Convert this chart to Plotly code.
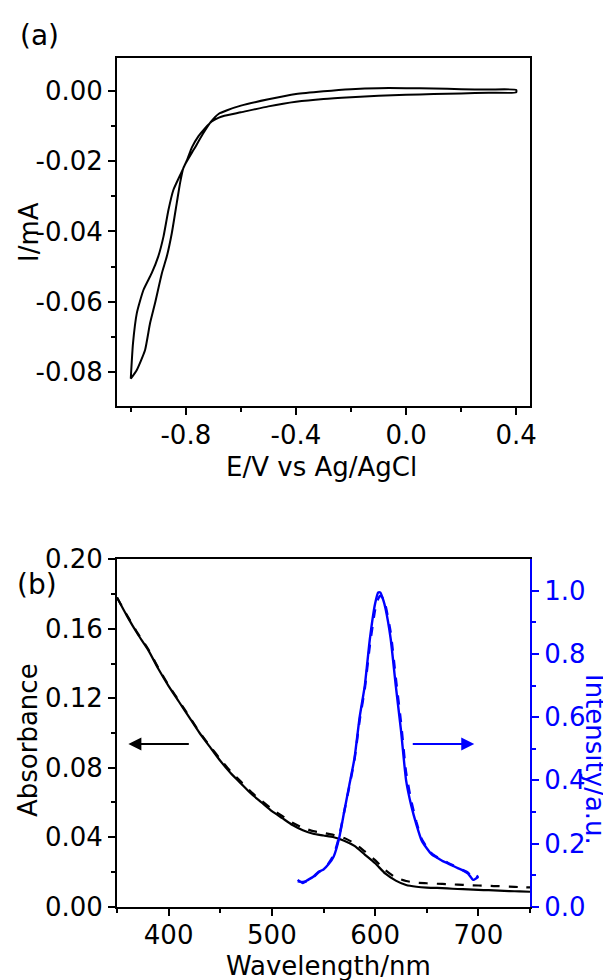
import plotly.graph_objects as go

# ---------------- data: panel (a) cyclic voltammogram ----------------
cv_forward_potential = [0.40, 0.30, 0.20, 0.10, 0.00, -0.10, -0.20, -0.30, -0.40, -0.50,
                        -0.60, -0.65, -0.68, -0.71, -0.74, -0.77, -0.80, -0.82, -0.845,
                        -0.863, -0.881, -0.90, -0.924, -0.954, -0.978, -0.992, -1.00]
cv_forward_current = [0.0004, 0.0005, 0.0006, 0.0008, 0.0009, 0.0009, 0.0006, 0.0000, -0.0008,
                      -0.0023, -0.0041, -0.0054, -0.0064, -0.0088, -0.0124, -0.0165, -0.0205,
                      -0.0238, -0.0281, -0.0338, -0.0414, -0.0471, -0.0519, -0.0567, -0.0633,
                      -0.0720, -0.0820]
cv_reverse_potential = [-1.00, -0.978, -0.948, -0.930, -0.912, -0.887, -0.869, -0.851, -0.833,
                        -0.821, -0.809, -0.795, -0.778, -0.754, -0.730, -0.706, -0.68, -0.66,
                        -0.60, -0.50, -0.40, -0.30, -0.20, -0.10, 0.00, 0.10, 0.20, 0.30, 0.40]
cv_reverse_current = [-0.0820, -0.0795, -0.0738, -0.0662, -0.0605, -0.0519, -0.0471, -0.0405,
                      -0.0319, -0.0262, -0.0219, -0.0195, -0.0160, -0.0128, -0.0105, -0.0086,
                      -0.0075, -0.0070, -0.0060, -0.0043, -0.0030, -0.0022, -0.0017, -0.0013,
                      -0.0010, -0.0008, -0.0006, -0.0004, -0.0003]

# ---------------- data: panel (b) absorbance + PL ----------------
wavelength_abs = [350, 360, 370, 380, 390, 400, 410, 420, 430, 440, 450, 460, 470, 480, 490,
                  500, 510, 520, 530, 540, 550, 560, 570, 580, 590, 600, 610, 620, 630, 640,
                  650, 660, 670, 680, 690, 700, 710, 720, 730, 740, 750]
absorbance_solid = [0.178, 0.167, 0.157, 0.148, 0.137, 0.127, 0.118, 0.109, 0.100, 0.092,
                    0.084, 0.077, 0.071, 0.065, 0.060, 0.055, 0.051, 0.047, 0.044, 0.042,
                    0.041, 0.040, 0.038, 0.035, 0.030, 0.025, 0.019, 0.015, 0.0125, 0.0115,
                    0.011, 0.0108, 0.0105, 0.0102, 0.010, 0.0097, 0.0095, 0.0093, 0.009,
                    0.0088, 0.0086]
absorbance_dashed = [0.178, 0.1675, 0.1575, 0.1485, 0.1375, 0.1275, 0.1185, 0.1095, 0.1005,
                     0.0925, 0.085, 0.078, 0.072, 0.066, 0.061, 0.0562, 0.0522, 0.0483, 0.0455,
                     0.0435, 0.0425, 0.0413, 0.0395, 0.0365, 0.0318, 0.0268, 0.021, 0.0168,
                     0.0148, 0.0138, 0.0135, 0.0132, 0.013, 0.0127, 0.0124, 0.0122, 0.012,
                     0.0118, 0.0116, 0.0113, 0.0111]

wavelength_pl = [525, 530, 535, 540, 545, 550, 555, 560, 565, 570, 575, 580, 585, 590, 595,
                 600, 603, 605, 608, 610, 615, 620, 625, 630, 635, 640, 645, 650, 655, 660,
                 665, 670, 675, 680, 685, 690, 695, 700]
intensity_solid = [0.085, 0.075, 0.085, 0.095, 0.110, 0.118, 0.135, 0.160, 0.215, 0.300,
                   0.385, 0.470, 0.600, 0.700, 0.850, 0.960, 0.995, 0.995, 0.970, 0.945,
                   0.850, 0.700, 0.560, 0.400, 0.320, 0.260, 0.210, 0.185, 0.165, 0.155,
                   0.145, 0.138, 0.130, 0.122, 0.115, 0.105, 0.085, 0.095]
intensity_dashed = [0.080, 0.078, 0.082, 0.093, 0.108, 0.120, 0.138, 0.165, 0.220, 0.300,
                    0.380, 0.465, 0.590, 0.690, 0.830, 0.940, 0.975, 0.985, 0.975, 0.955,
                    0.870, 0.725, 0.585, 0.425, 0.335, 0.268, 0.215, 0.188, 0.168, 0.157,
                    0.147, 0.140, 0.132, 0.124, 0.116, 0.108, 0.090, 0.098]

# ---------------- tick labels ----------------
cv_x_ticks = [-0.8, -0.4, 0.0, 0.4]
cv_x_ticklabels = ["-0.8", "-0.4", "0.0", "0.4"]
cv_x_minor = [-1.0, -0.6, -0.2, 0.2]
cv_y_ticks = [0.0, -0.02, -0.04, -0.06, -0.08]
cv_y_ticklabels = ["0.00", "-0.02", "-0.04", "-0.06", "-0.08"]
cv_y_minor = [-0.01, -0.03, -0.05, -0.07]
wl_ticks = [400, 500, 600, 700]
wl_ticklabels = ["400", "500", "600", "700"]
wl_minor = [350, 450, 550, 650, 750]
abs_ticks = [0.0, 0.04, 0.08, 0.12, 0.16, 0.20]
abs_ticklabels = ["0.00", "0.04", "0.08", "0.12", "0.16", "0.20"]
abs_minor = [0.02, 0.06, 0.10, 0.14, 0.18]
int_ticks = [0.0, 0.2, 0.4, 0.6, 0.8, 1.0]
int_ticklabels = ["0.0", "0.2", "0.4", "0.6", "0.8", "1.0"]
int_minor = [0.1, 0.3, 0.5, 0.7, 0.9]

# the page body adds an 8 px offset; size the figure so it fills the 611x980 window
OFF = 8
W, H = 611 - OFF, 980 - OFF
FONT = "DejaVu Sans"
FS = 26
BLUE = "#0000ff"


def fx(p):
    return (p - OFF) / W


def fy(p):
    return 1 - (p - OFF) / H


fig = go.Figure()

# panel (a): closed CV loop
loop_x = cv_forward_potential + cv_reverse_potential + cv_forward_potential[:1]
loop_y = cv_forward_current + cv_reverse_current + cv_forward_current[:1]
fig.add_trace(go.Scatter(x=loop_x, y=loop_y, mode="lines", xaxis="x", yaxis="y",
                         line=dict(color="black", width=2, shape="spline", smoothing=0.5),
                         showlegend=False, hoverinfo="skip"))

# panel (b)
fig.add_trace(go.Scatter(x=wavelength_abs, y=absorbance_dashed, mode="lines", xaxis="x2", yaxis="y2",
                         line=dict(color="black", width=2.2, dash="dash", shape="spline", smoothing=0.6),
                         showlegend=False))
fig.add_trace(go.Scatter(x=wavelength_abs, y=absorbance_solid, mode="lines", xaxis="x2", yaxis="y2",
                         line=dict(color="black", width=2.2, shape="spline", smoothing=0.6),
                         showlegend=False))
fig.add_trace(go.Scatter(x=wavelength_pl, y=intensity_dashed, mode="lines", xaxis="x2", yaxis="y3",
                         line=dict(color=BLUE, width=2.4, dash="dash", shape="spline", smoothing=0.5),
                         showlegend=False))
fig.add_trace(go.Scatter(x=wavelength_pl, y=intensity_solid, mode="lines", xaxis="x2", yaxis="y3",
                         line=dict(color=BLUE, width=2.4, shape="spline", smoothing=0.5),
                         showlegend=False))

tickfont = dict(family=FONT, size=FS, color="black")
common = dict(showgrid=False, zeroline=False, showline=True, linewidth=2, linecolor="black",
              ticks="outside", ticklen=7, tickwidth=2, tickcolor="black", tickfont=tickfont,
              tickmode="array", fixedrange=True, automargin=False)

xdom = [fx(117), fx(530)]

fig.update_layout(
    width=W, height=H,
    margin=dict(l=0, r=0, t=0, b=0, autoexpand=False),
    paper_bgcolor="white", plot_bgcolor="white",
    xaxis=dict(domain=xdom, anchor="y", range=[-1.05, 0.45], tickvals=cv_x_ticks,
               ticktext=cv_x_ticklabels, mirror=True, ticklabelstandoff=-2,
               minor=dict(tickvals=cv_x_minor, ticks="outside", ticklen=4, tickwidth=2,
                          tickcolor="black"), **common),
    yaxis=dict(domain=[fy(406), fy(58)], anchor="x", range=[-0.0898, 0.0095], tickvals=cv_y_ticks,
               ticktext=cv_y_ticklabels, mirror=True,
               minor=dict(tickvals=cv_y_minor, ticks="outside", ticklen=4, tickwidth=2,
                          tickcolor="black"), **common),
    xaxis2=dict(domain=xdom, anchor="y2", range=[350, 750], tickvals=wl_ticks,
                ticktext=wl_ticklabels, mirror=True, ticklabelstandoff=-3,
                minor=dict(tickvals=wl_minor, ticks="outside", ticklen=4, tickwidth=2,
                           tickcolor="black"), **common),
    yaxis2=dict(domain=[fy(906.7), fy(559.3)], anchor="x2", range=[0, 0.2], tickvals=abs_ticks,
                ticktext=abs_ticklabels,
                minor=dict(tickvals=abs_minor, ticks="outside", ticklen=4, tickwidth=2,
                           tickcolor="black"), **common),
    yaxis3=dict(overlaying="y2", anchor="x2", side="right", range=[0, 1.1], tickvals=int_ticks,
                ticktext=int_ticklabels, showgrid=False, zeroline=False, showline=True,
                linewidth=2, linecolor=BLUE, ticks="outside", ticklen=7, tickwidth=2,
                tickcolor=BLUE, tickfont=dict(family=FONT, size=FS, color=BLUE),
                tickmode="array", fixedrange=True, automargin=False,
                minor=dict(tickvals=int_minor, ticks="outside", ticklen=4, tickwidth=2,
                           tickcolor=BLUE)),
)

ann_font = dict(family=FONT, size=FS, color="black")
annotations = [
    dict(text="(a)", x=fx(39), y=fy(35), font=dict(family=FONT, size=28, color="black")),
    dict(text="(b)", x=fx(37), y=fy(584), font=dict(family=FONT, size=28, color="black")),
    dict(text="I/mA", x=fx(29), y=fy(232), textangle=-90, font=ann_font),
    dict(text="E/V vs Ag/AgCl", x=fx(321), y=fy(467), font=ann_font),
    dict(text="Absorbance", x=fx(28), y=fy(740), textangle=-90, font=ann_font),
    dict(text="Wavelength/nm", x=fx(328), y=fy(966), font=ann_font),
    dict(text="Intensity/a.u.", x=fx(595), y=fy(759), textangle=90,
         font=dict(family=FONT, size=FS, color=BLUE)),
]
for a in annotations:
    a.update(xref="paper", yref="paper", showarrow=False, xanchor="center", yanchor="middle")
    fig.add_annotation(**a)

# direction arrows
fig.add_annotation(x=361, y=0.0937, ax=421, ay=0.0937, xref="x2", yref="y2", axref="x2", ayref="y2",
                   text="", showarrow=True, arrowhead=2, arrowsize=1.3, arrowwidth=2, arrowcolor="black")
fig.add_annotation(x=696, y=0.515, ax=635, ay=0.515, xref="x2", yref="y3", axref="x2", ayref="y3",
                   text="", showarrow=True, arrowhead=2, arrowsize=1.3, arrowwidth=2, arrowcolor=BLUE)

fig.write_html("out.html")
